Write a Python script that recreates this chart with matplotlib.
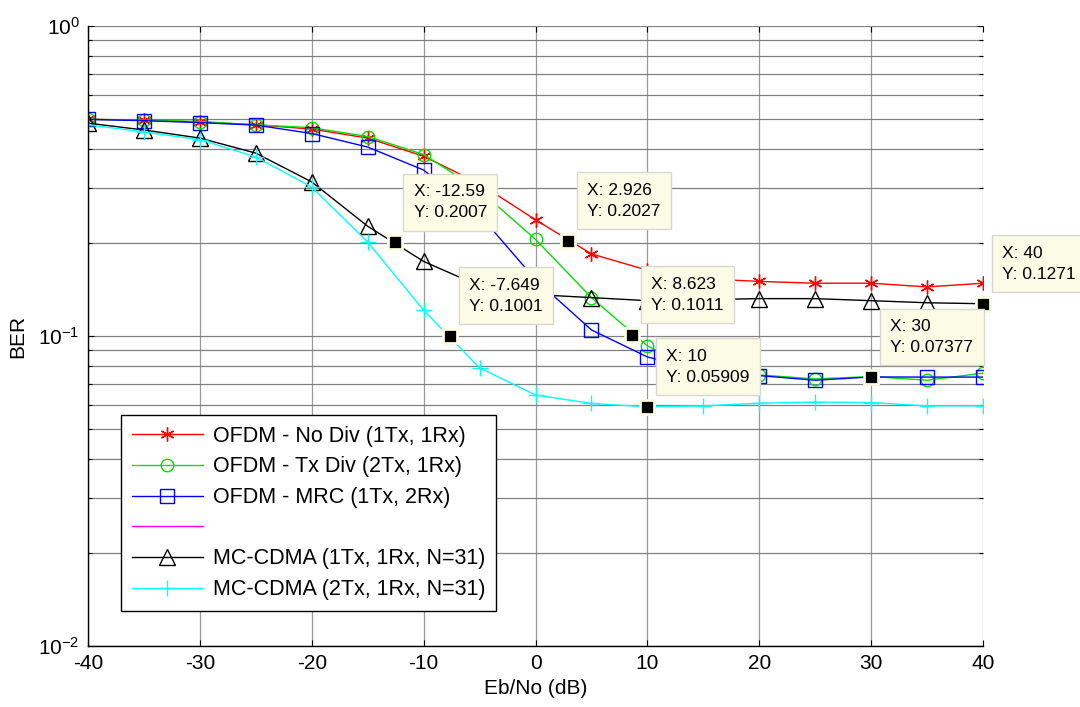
import math
import matplotlib
matplotlib.use("Agg")
import matplotlib.pyplot as plt
from matplotlib.ticker import LogLocator, FixedLocator, NullFormatter, FuncFormatter

plt.rcParams['font.family'] = ['Liberation Sans', 'DejaVu Sans']
plt.rcParams['mathtext.fontset'] = 'custom'
plt.rcParams['mathtext.rm'] = 'Liberation Sans'
plt.rcParams['mathtext.it'] = 'Liberation Sans'
plt.rcParams['axes.unicode_minus'] = False

# Eb/No sweep (dB)
ebno = [-40, -35, -30, -25, -20, -15, -10, -5, 0, 5, 10, 15, 20, 25, 30, 35, 40]

ber_ofdm_nodiv = [0.50, 0.497, 0.49, 0.48, 0.465, 0.435, 0.38, 0.31, 0.237, 0.184,
                  0.163, 0.153, 0.150, 0.148, 0.148, 0.144, 0.148]
ber_ofdm_txdiv = [0.50, 0.497, 0.492, 0.48, 0.47, 0.44, 0.385, 0.295, 0.205, 0.133,
                  0.0929, 0.077, 0.0749, 0.0727, 0.074, 0.072, 0.0759]
ber_ofdm_mrc = [0.50, 0.495, 0.488, 0.479, 0.45, 0.407, 0.343, 0.246, 0.152, 0.1046,
                0.0856, 0.077, 0.0745, 0.072, 0.07377, 0.0737, 0.0737]
ber_mccdma_1tx = [0.486, 0.462, 0.435, 0.389, 0.314, 0.226, 0.174, 0.145, 0.136, 0.133,
                  0.130, 0.131, 0.132, 0.132, 0.130, 0.128, 0.1271]
ber_mccdma_2tx = [0.48, 0.455, 0.43, 0.378, 0.302, 0.201, 0.121, 0.0789, 0.0645, 0.0606,
                  0.05909, 0.0595, 0.0607, 0.0612, 0.061, 0.0595, 0.0595]

labels = ['OFDM - No Div (1Tx, 1Rx)', 'OFDM - Tx Div (2Tx, 1Rx)',
          'OFDM - MRC (1Tx, 2Rx)', ' ',
          'MC-CDMA (1Tx, 1Rx, N=31)', 'MC-CDMA (2Tx, 1Rx, N=31)']

# data cursor positions
tip_x = [-12.59, 2.926, -7.649, 8.623, 10, 30, 40]
tip_y = [0.2007, 0.2027, 0.1001, 0.1011, 0.05909, 0.07377, 0.1271]

x_ticks = [-40, -30, -20, -10, 0, 10, 20, 30, 40]

fig = plt.figure(figsize=(10.8, 7.07), dpi=100)
ax = fig.add_axes([0.0815, 0.0863, 0.8287, 0.8769])

ax.plot(ebno, ber_ofdm_nodiv, color='red', lw=1, marker=(6, 2, 0), ms=10,
        mec='red', mew=1, label=labels[0])
ax.plot(ebno, ber_ofdm_txdiv, color='#00e000', lw=1, marker='o', ms=9, mfc='none',
        mec='#00e000', label=labels[1])
ax.plot(ebno, ber_ofdm_mrc, color='blue', lw=1, marker='s', ms=10, mfc='none',
        mec='blue', label=labels[2])
ax.plot([], [], color='magenta', lw=1, label=labels[3])
ax.plot(ebno, ber_mccdma_1tx, color='black', lw=1, marker='^', ms=11, mfc='none',
        mec='black', label=labels[4])
ax.plot(ebno, ber_mccdma_2tx, color='cyan', lw=1, marker='+', ms=11,
        mec='cyan', label=labels[5])

ax.set_yscale('log')
ax.set_xlim(-40, 40)
ax.set_ylim(1e-2, 1e0)

ax.xaxis.set_major_locator(FixedLocator(x_ticks))
ax.yaxis.set_major_locator(LogLocator(base=10))
ax.yaxis.set_minor_locator(LogLocator(base=10, subs=range(2, 10)))
ax.yaxis.set_minor_formatter(NullFormatter())


def decade(v, pos):
    return r'$\mathregular{10^{%d}}$' % round(math.log10(v))


ax.yaxis.set_major_formatter(FuncFormatter(decade))

ax.grid(True, which='major', axis='x', color='#9a9a9a', lw=0.9, ls='-')
ax.grid(True, which='both', axis='y', color='#808080', lw=0.9, ls='-')

ax.tick_params(which='both', direction='in', top=True, right=True, labelsize=15,
               length=4, width=0.8)
ax.tick_params(which='minor', length=3)
ax.tick_params(axis='x', pad=6)
ax.tick_params(axis='y', pad=6)
for side in ('top', 'right'):
    ax.spines[side].set_visible(False)
for side in ('left', 'bottom'):
    ax.spines[side].set_linewidth(1.0)

ax.set_xlabel('Eb/No (dB)', fontsize=15, labelpad=4)
ax.set_ylabel('BER', fontsize=15, labelpad=8)

leg = ax.legend(loc='upper left', bbox_to_anchor=(0.037, 0.3726), borderaxespad=0,
                fontsize=15.5, fancybox=False, framealpha=1, edgecolor='black',
                handlelength=3.3, handletextpad=0.45, labelspacing=0.45, borderpad=0.5)
leg.get_frame().set_linewidth(1.0)

# data cursors
for xv, yv in zip(tip_x, tip_y):
    ax.plot([xv], [yv], marker='s', ms=10, mfc='black', mec='#fbfbe0', mew=2,
            ls='none', zorder=6, clip_on=False)
    ax.annotate('X: %s\nY: %s' % (format(xv, '.4g'), format(yv, '.4g')),
                xy=(xv, yv), xycoords='data', xytext=(19, 58),
                textcoords='offset pixels', ha='left', va='top', fontsize=12.5,
                linespacing=1.5, zorder=7, annotation_clip=False,
                bbox=dict(boxstyle='square,pad=0.6', fc='#fbfbe6', ec='#d8d8d0', lw=1))

fig.savefig('out.png', dpi=100)
